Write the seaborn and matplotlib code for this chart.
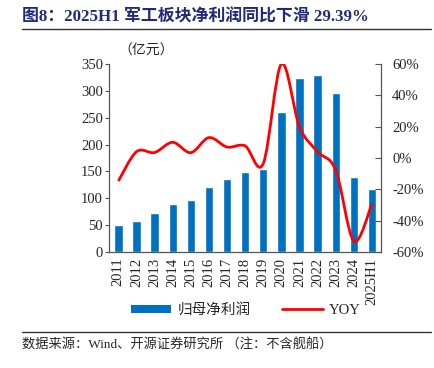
import seaborn as sns
import matplotlib.pyplot as plt
from matplotlib.path import Path
from matplotlib.patches import PathPatch, Patch
from matplotlib.lines import Line2D
from matplotlib.ticker import FixedLocator
import pandas as pd

years = ["2011", "2012", "2013", "2014", "2015", "2016", "2017", "2018",
         "2019", "2020", "2021", "2022", "2023", "2024", "2025H1"]
profit = [51, 57, 72, 90, 97, 121, 136, 148, 154, 261, 324, 330, 296, 140, 118]
yoy = [-14.7, 4.0, 3.5, 10.0, 3.4, 13.0, 7.0, 7.7, -3.6, 60.0, 20.0, 4.0, -7.7, -53.0, -29.39]

sns.set_style("white")
plt.rcParams["font.family"] = ["Liberation Serif", "Noto Sans CJK SC"]
plt.rcParams["axes.unicode_minus"] = False

fig = plt.figure(figsize=(4.35, 3.68), dpi=100)
ax = fig.add_axes([0.2513, 0.3152, 0.6245, 0.511])

df = pd.DataFrame({"year": years, "profit": profit})
sns.barplot(data=df, x="year", y="profit", color="#0070C0", saturation=1,
            width=0.46, ax=ax)
ax.set_ylim(0, 350)
ax.set_xlim(-0.5, len(years) - 0.5)
ax.set_yticks(range(0, 351, 50))
ax.set_xlabel("")
ax.set_ylabel("")
ax.tick_params(axis="y", direction="out", length=3, color="#555555",
               labelsize=10.5, pad=1.5)
ax.tick_params(axis="x", length=0, labelsize=10.5, rotation=90, pad=4)
ax.xaxis.set_minor_locator(FixedLocator([i - 0.5 for i in range(len(years) + 1)]))
ax.tick_params(axis="x", which="minor", direction="out", length=2.5, color="#333333")
for s in ["left", "right", "bottom"]:
    ax.spines[s].set_color("#555555")
    ax.spines[s].set_linewidth(0.9)
ax.spines["top"].set_visible(False)

ax2 = ax.twinx()
ax2.set_ylim(-60, 60)
ax2.set_yticks(range(-60, 61, 20))
ax2.set_yticklabels([f"{v}%" for v in range(-60, 61, 20)])
ax2.tick_params(axis="y", direction="in", length=4, color="#555555",
                labelsize=10.5, pad=8)
for s in ax2.spines.values():
    s.set_visible(False)

# smoothed YOY line (Catmull-Rom style bezier through the data points)
pts = list(zip(range(len(yoy)), yoy))
verts = [pts[0]]
codes = [Path.MOVETO]
for i in range(len(pts) - 1):
    p0 = pts[max(i - 1, 0)]
    p1 = pts[i]
    p2 = pts[i + 1]
    p3 = pts[min(i + 2, len(pts) - 1)]
    c1 = (p1[0] + (p2[0] - p0[0]) / 6, p1[1] + (p2[1] - p0[1]) / 6)
    c2 = (p2[0] - (p3[0] - p1[0]) / 6, p2[1] - (p3[1] - p1[1]) / 6)
    verts += [c1, c2, p2]
    codes += [Path.CURVE4] * 3
ax2.add_patch(PathPatch(Path(verts, codes), facecolor="none",
                        edgecolor="#FF0000", lw=2))

fig.text(0.272, 0.862, "（亿元）", fontsize=10, ha="left", va="center")

handles = [Patch(facecolor="#0070C0", edgecolor="none"),
           Line2D([], [], color="#FF0000", lw=2)]
fig.legend(handles, ["归母净利润", "YOY"], loc="center", ncol=2,
           bbox_to_anchor=(0.565, 0.157), frameon=False, fontsize=10.5,
           handlelength=2.8, handleheight=0.55, columnspacing=2.2,
           handletextpad=0.4)

fig.text(0.05, 0.952, "图8：2025H1 军工板块净利润同比下滑 29.39%", fontsize=12.2,
         fontweight="bold", color="#1F2A7A", ha="left", va="center")
fig.add_artist(Line2D([0.05, 0.99], [0.921, 0.921], color="#333333", lw=1))
fig.add_artist(Line2D([0.05, 0.99], [0.098, 0.098], color="#333333", lw=1))
fig.text(0.05, 0.062, "数据来源：Wind、开源证券研究所 （注：不含舰船）", fontsize=9.5,
         ha="left", va="center")

fig.savefig("out.png", dpi=100)
